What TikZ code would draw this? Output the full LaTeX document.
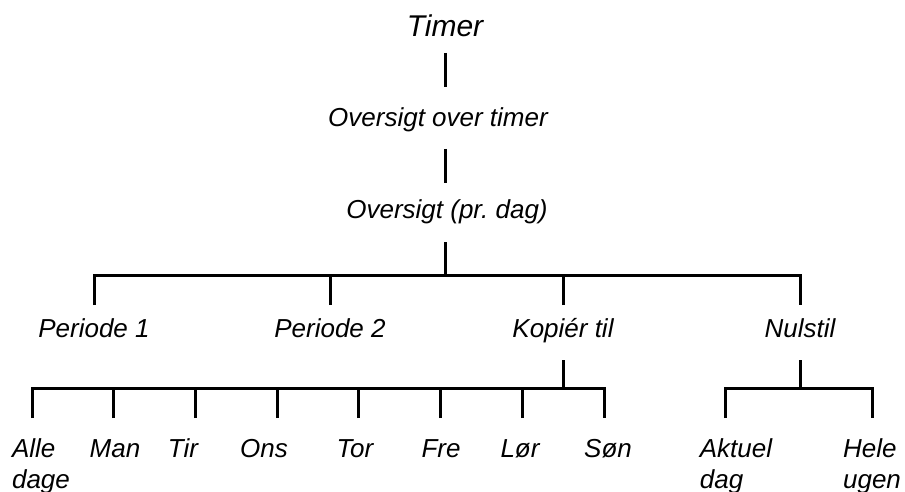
\documentclass[tikz,border=0pt]{standalone}
\usepackage{fontspec}
\setmainfont{Liberation Sans}
\begin{document}
\begin{tikzpicture}[x=1pt,y=-1pt,line join=miter,
  every node/.style={font=\fontsize{26}{31}\selectfont\itshape,inner sep=0pt,outer sep=0pt,anchor=base},
  item/.style={text height=32pt,text depth=23pt},
  leaf/.style={text height=39pt,text depth=0pt,align=left},
  twoleaf/.style={leaf,text height=70pt},
  link/.style={line width=3pt}]
  \useasboundingbox (0,0) rectangle (905,492);
  % top of the tree
  \node[font=\fontsize{30}{36}\selectfont\itshape,text depth=16pt] (timer) at (445,37) {Timer};
  \node[item,text height=40pt,text depth=22pt] (ovtimer) at (438,127) {Oversigt over timer};
  \node[item,text height=35pt,text depth=24pt] (ovdag) at (447,218) {Oversigt (pr.\ dag)};
  \coordinate (bar1) at (445,275);
  \draw[link] (timer.south) -- (timer.south |- ovtimer.north);
  \draw[link] (timer.south |- ovtimer.south) -- (timer.south |- ovdag.north);
  \draw[link] (ovdag.south -| bar1) -- (bar1);
  % second level
  \node[item] (per1) at (94,337) {Periode 1};
  \node[item] (per2) at (330,337) {Periode 2};
  \node[item] (kop) at (563,337) {Kopiér til};
  \node[item] (nul) at (800,337) {Nulstil};
  \draw[link] (per1.north) |- (nul.north |- bar1) -- (nul.north);
  \foreach \n in {per2,kop}
    \draw[link] (\n.north) -- (\n.north |- bar1);
  % days under Kopiér til
  \coordinate (bar2) at (563,388);
  \node[twoleaf] (alle) at (41,488) {Alle\\dage};
  \foreach \n/\x/\t in {man/115/Man,tir/183/Tir,ons/264/Ons,
      tor/355/Tor,fre/441/Fre,lor/520/Lør,son/608/Søn}
    \node[leaf] (\n) at (\x,457) {\t};
  \draw[link] (kop.south) -- (bar2);
  \draw[link] ([xshift=-9pt]alle.north) |- (bar2) -| ([xshift=-4pt]son.north);
  \foreach \n/\d in {man/-2,tir/12,ons/13,tor/3,fre/-1,lor/2}
    \draw[link] ([xshift=\d pt]\n.north) -- ++(0,-30);
  % under Nulstil
  \coordinate (bar3) at (800,388);
  \node[twoleaf] (akt) at (736,488) {Aktuel\\dag};
  \node[twoleaf] (hele) at (872,488) {Hele\\ugen};
  \draw[link] (nul.south) -- (bar3);
  \draw[link] ([xshift=-11pt]akt.north) |- (bar3) -| (hele.north);
\end{tikzpicture}
\end{document}
